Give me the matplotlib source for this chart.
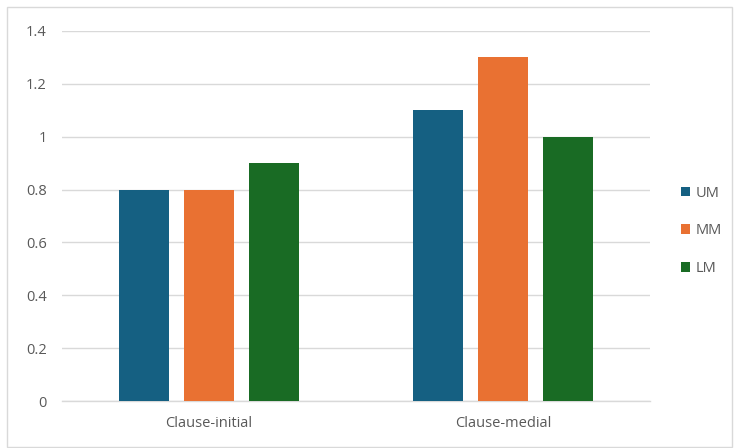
import matplotlib
matplotlib.use("Agg")
import matplotlib.pyplot as plt
from matplotlib.patches import Rectangle
import numpy as np

categories = ["Clause-initial", "Clause-medial"]
series_names = ["UM", "MM", "LM"]
um_values = [0.8, 1.1]
mm_values = [0.8, 1.3]
lm_values = [0.9, 1.0]
y_ticks = [0, 0.2, 0.4, 0.6, 0.8, 1.0, 1.2, 1.4]
y_tick_labels = ["0", "0.2", "0.4", "0.6", "0.8", "1", "1.2", "1.4"]

colors = ["#156082", "#E97132", "#196B24"]
text_color = "#595959"
grid_color = "#D9D9D9"

plt.rcParams["font.family"] = ["Open Sans", "DejaVu Sans"]

fig = plt.figure(figsize=(7.34, 4.48), dpi=100)
fig.patches.append(Rectangle((7 / 734, 1 / 448), 725 / 734, 440 / 448,
                             transform=fig.transFigure, fill=False,
                             edgecolor="#D9D9D9", linewidth=1))

ax = fig.add_axes([62 / 734, 1 - 401 / 448, 588 / 734, 370 / 448])

x = np.arange(len(categories))
width = 0.172
step = 0.221
for i, (name, vals) in enumerate(zip(series_names, [um_values, mm_values, lm_values])):
    ax.bar(x + (i - 1) * step, vals, width=width, color=colors[i], label=name, zorder=3)

ax.set_xlim(-0.5, 1.5)
ax.set_ylim(0, 1.4)
ax.set_yticks(y_ticks)
ax.set_yticklabels(y_tick_labels)
ax.set_xticks(x)
ax.set_xticklabels(categories)
ax.yaxis.grid(True, color=grid_color, linewidth=1, zorder=0)
ax.tick_params(axis="both", length=0, colors=text_color, labelsize=10.5)
ax.tick_params(axis="y", pad=11)
ax.tick_params(axis="x", pad=11)
for side in ["top", "right", "left"]:
    ax.spines[side].set_visible(False)
ax.spines["bottom"].set_color(grid_color)
ax.spines["bottom"].set_linewidth(1)

leg = ax.legend(loc="center left", bbox_to_anchor=(1.03, 0.46),
                frameon=False, fontsize=10.5, handlelength=0.65, handleheight=0.65,
                handletextpad=0.35, labelspacing=1.55, labelcolor=text_color)

fig.savefig("out.png", dpi=100)
